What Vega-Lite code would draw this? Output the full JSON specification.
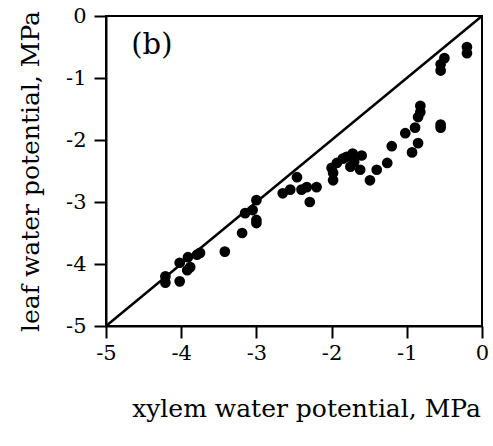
{
  "$schema": "https://vega.github.io/schema/vega-lite/v6.json",
  "width": 376,
  "height": 310,
  "autosize": {"type": "none"},
  "padding": {"left": 106, "top": 16, "right": 11, "bottom": 120},
  "background": "white",
  "config": {
    "view": {"stroke": "black", "strokeWidth": 2},
    "font": "DejaVu Serif",
    "axis": {
      "grid": false,
      "domainColor": "black",
      "domainWidth": 2,
      "tickColor": "black",
      "tickWidth": 2,
      "tickSize": 12,
      "labelFont": "DejaVu Serif",
      "labelFontSize": 21,
      "labelColor": "black",
      "titleFont": "DejaVu Serif",
      "titleFontSize": 25,
      "titleFontWeight": "normal",
      "titleColor": "black"
    }
  },
  "datasets": {
    "points": [
      {"xylem": -0.2, "leaf": -0.5},
      {"xylem": -0.2, "leaf": -0.6},
      {"xylem": -0.5, "leaf": -0.68},
      {"xylem": -0.55, "leaf": -0.78},
      {"xylem": -0.55, "leaf": -0.88},
      {"xylem": -0.55, "leaf": -1.75},
      {"xylem": -0.55, "leaf": -1.8},
      {"xylem": -0.82, "leaf": -1.45},
      {"xylem": -0.82, "leaf": -1.55},
      {"xylem": -0.85, "leaf": -1.63},
      {"xylem": -0.89, "leaf": -1.8},
      {"xylem": -1.02, "leaf": -1.89},
      {"xylem": -0.85, "leaf": -2.05},
      {"xylem": -1.2, "leaf": -2.1},
      {"xylem": -0.93, "leaf": -2.2},
      {"xylem": -1.26, "leaf": -2.37},
      {"xylem": -1.4, "leaf": -2.48},
      {"xylem": -1.49, "leaf": -2.65},
      {"xylem": -1.72, "leaf": -2.22},
      {"xylem": -1.8, "leaf": -2.27},
      {"xylem": -1.93, "leaf": -2.37},
      {"xylem": -1.98, "leaf": -2.53},
      {"xylem": -1.98, "leaf": -2.65},
      {"xylem": -1.62, "leaf": -2.48},
      {"xylem": -1.75, "leaf": -2.43},
      {"xylem": -1.85, "leaf": -2.3},
      {"xylem": -2.0, "leaf": -2.45},
      {"xylem": -1.7, "leaf": -2.35},
      {"xylem": -1.6, "leaf": -2.25},
      {"xylem": -2.33, "leaf": -2.76},
      {"xylem": -2.29, "leaf": -3.0},
      {"xylem": -2.46, "leaf": -2.6},
      {"xylem": -2.55, "leaf": -2.8},
      {"xylem": -2.65, "leaf": -2.86},
      {"xylem": -2.4, "leaf": -2.8},
      {"xylem": -2.2, "leaf": -2.76},
      {"xylem": -3.0, "leaf": -2.97},
      {"xylem": -3.05, "leaf": -3.13},
      {"xylem": -3.0, "leaf": -3.29},
      {"xylem": -3.15, "leaf": -3.18},
      {"xylem": -3.0, "leaf": -3.34},
      {"xylem": -3.19, "leaf": -3.5},
      {"xylem": -3.42, "leaf": -3.8},
      {"xylem": -3.79, "leaf": -3.85},
      {"xylem": -3.91, "leaf": -3.89},
      {"xylem": -4.02, "leaf": -3.98},
      {"xylem": -3.88, "leaf": -4.05},
      {"xylem": -3.92, "leaf": -4.1},
      {"xylem": -4.21, "leaf": -4.2},
      {"xylem": -4.21, "leaf": -4.3},
      {"xylem": -4.02, "leaf": -4.28},
      {"xylem": -3.75, "leaf": -3.82}
    ],
    "oneToOne": [
      {"xylem": -5, "leaf": -5},
      {"xylem": 0, "leaf": 0}
    ],
    "panel": [
      {"label": "(b)"}
    ]
  },
  "layer": [
    {
      "data": {"name": "oneToOne"},
      "mark": {"type": "line", "color": "black", "strokeWidth": 2.5},
      "encoding": {
        "x": {"field": "xylem", "type": "quantitative", "scale": {"domain": [-5, 0], "nice": false}},
        "y": {"field": "leaf", "type": "quantitative", "scale": {"domain": [-5, 0], "nice": false}}
      }
    },
    {
      "data": {"name": "points"},
      "mark": {"type": "circle", "color": "black", "opacity": 1, "size": 115},
      "encoding": {
        "x": {
          "field": "xylem", "type": "quantitative",
          "scale": {"domain": [-5, 0], "nice": false},
          "axis": {"title": "xylem water potential, MPa", "values": [-5, -4, -3, -2, -1, 0], "labelExpr": "datum.value == 0 ? '0' : '-' + abs(datum.value)", "labelPadding": 4, "titlePadding": 33, "titleX": 200, "labelFlush": false}
        },
        "y": {
          "field": "leaf", "type": "quantitative",
          "scale": {"domain": [-5, 0], "nice": false},
          "axis": {"title": "leaf water potential, MPa", "values": [-5, -4, -3, -2, -1, 0], "labelExpr": "datum.value == 0 ? '0' : '-' + abs(datum.value)", "labelPadding": 8, "titlePadding": 22, "labelFlush": false}
        }
      }
    },
    {
      "data": {"name": "panel"},
      "mark": {"type": "text", "fontSize": 29, "font": "DejaVu Serif", "color": "black"},
      "encoding": {
        "x": {"datum": -4.39, "type": "quantitative"},
        "y": {"datum": -0.47, "type": "quantitative"},
        "text": {"field": "label"}
      }
    }
  ]
}
